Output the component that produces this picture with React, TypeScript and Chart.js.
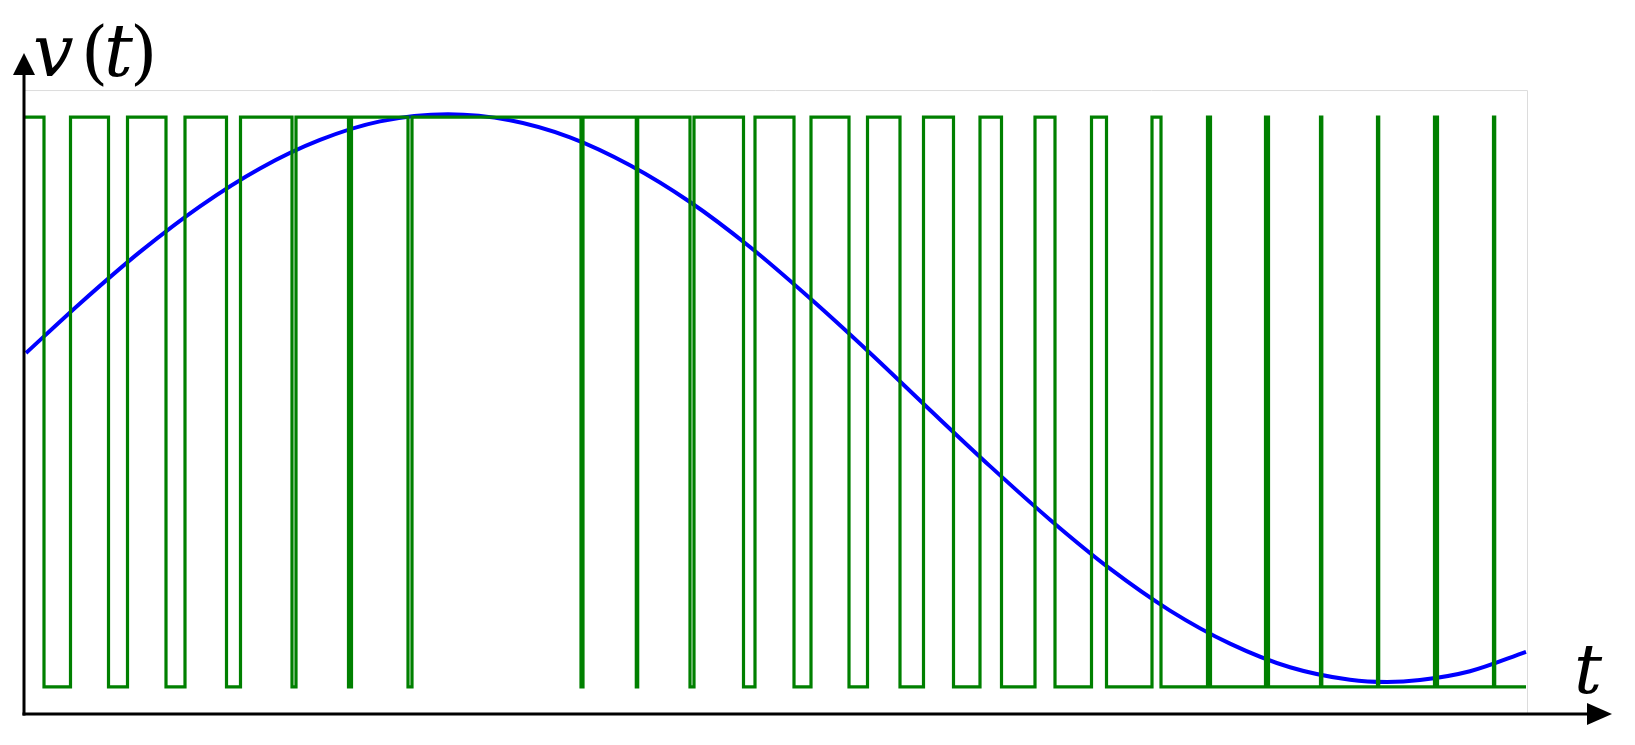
import React, { useEffect, useRef } from "react";
import { Chart, registerables } from "chart.js";

Chart.register(...registerables);

// ---- axis ranges (t in arbitrary time units, v normalised so PWM swings between -1 and 1)
const T_MIN = 0;
const T_MAX = 1588;
const V_MIN = -1.095;
const V_MAX = 1.225;

// ---- PWM (green) signal: starts high, toggles at every edge listed
const PWM_HIGH = 1;
const PWM_LOW = -1;
const PWM_START = 1;
const PWM_END = 1502;
const pwmEdges = [
  20, 46.5, 84.5, 103.5, 142, 161, 202.5, 216.5, 268, 272, 324.5, 327.5, 384, 388,
  557, 559, 612.3, 613.7, 666, 670, 719.5, 731, 770, 787, 825, 843.5, 876, 899.5,
  929.5, 956, 977.5, 1011, 1031, 1067.5, 1082.5, 1128, 1137, 1183.5, 1186.5, 1241.5,
  1244.5, 1296.5, 1297.8, 1353.5, 1354.7, 1410.5, 1413.5, 1469.5, 1470.7,
];

// ---- reference (blue) waveform
const sineT = [
  2, 56, 116, 176, 236, 296, 356, 424, 486, 546, 606, 666, 726, 786, 846, 906, 966,
  1026, 1086, 1146, 1206, 1266, 1326, 1363, 1396, 1446, 1502,
];
const sineV = [
  0.172, 0.346, 0.527, 0.687, 0.82, 0.92, 0.985, 1.01, 0.989, 0.929, 0.831, 0.702,
  0.544, 0.364, 0.172, -0.028, -0.225, -0.413, -0.585, -0.732, -0.848, -0.931,
  -0.975, -0.983, -0.976, -0.945, -0.877,
];

// ---- light frame of the original plot image
const FRAME_T = 1503;
const FRAME_V = 1.095;

const Y_LABEL_PARTS = ["v", "(", "t", ")"];
const X_LABEL = "t";

const GREEN = "#008000";
const BLUE = "#0000ff";

export default function App() {
  const canvasRef = useRef<HTMLCanvasElement | null>(null);

  useEffect(() => {
    const canvas = canvasRef.current;
    if (!canvas) return;

    const pwmData: { x: number; y: number }[] = [{ x: PWM_START, y: PWM_HIGH }];
    let level = PWM_HIGH;
    for (const e of pwmEdges) {
      level = level === PWM_HIGH ? PWM_LOW : PWM_HIGH;
      pwmData.push({ x: e, y: level });
    }
    pwmData.push({ x: PWM_END, y: level });

    const sineData = sineT.map((t, i) => ({ x: t, y: sineV[i] }));

    const axesPlugin = {
      id: "axesArrows",
      beforeDatasetsDraw(chart: any) {
        const { ctx, scales } = chart;
        const xs = scales.x;
        const ys = scales.y;
        const x0 = xs.getPixelForValue(T_MIN);
        const y0 = ys.getPixelForValue(V_MIN);
        const fx = xs.getPixelForValue(FRAME_T);
        const fy = ys.getPixelForValue(FRAME_V);
        ctx.save();
        ctx.strokeStyle = "#dcdcdc";
        ctx.lineWidth = 1;
        ctx.beginPath();
        ctx.moveTo(x0, fy + 0.5);
        ctx.lineTo(fx + 0.5, fy + 0.5);
        ctx.lineTo(fx + 0.5, y0);
        ctx.stroke();
        ctx.restore();
      },
      afterDraw(chart: any) {
        const { ctx, scales } = chart;
        const xs = scales.x;
        const ys = scales.y;
        const x0 = xs.getPixelForValue(T_MIN);
        const y0 = ys.getPixelForValue(V_MIN);
        const xEnd = xs.getPixelForValue(T_MAX);
        const yEnd = ys.getPixelForValue(V_MAX);
        ctx.save();
        ctx.strokeStyle = "#000";
        ctx.fillStyle = "#000";
        ctx.lineWidth = 3;
        // y axis
        ctx.beginPath();
        ctx.moveTo(x0, y0 + 1.5);
        ctx.lineTo(x0, yEnd + 18);
        ctx.stroke();
        ctx.beginPath();
        ctx.moveTo(x0, yEnd);
        ctx.lineTo(x0 - 11, yEnd + 22);
        ctx.lineTo(x0 + 11, yEnd + 22);
        ctx.closePath();
        ctx.fill();
        // x axis
        ctx.beginPath();
        ctx.moveTo(x0 - 1.5, y0);
        ctx.lineTo(xEnd - 20, y0);
        ctx.stroke();
        ctx.beginPath();
        ctx.moveTo(xEnd, y0);
        ctx.lineTo(xEnd - 25, y0 - 11);
        ctx.lineTo(xEnd - 25, y0 + 11);
        ctx.closePath();
        ctx.fill();

        // labels
        ctx.textAlign = "left";
        ctx.textBaseline = "alphabetic";
        const italic = "italic 72px 'DejaVu Serif', serif";
        const upright = "70px 'DejaVu Serif', serif";
        const offs = [9, 57, 80, 106];
        const baseY = yEnd + 23;
        Y_LABEL_PARTS.forEach((p, i) => {
          const paren = p === "(" || p === ")";
          ctx.font = paren ? upright : italic;
          ctx.fillText(p, x0 + offs[i], baseY);
        });
        ctx.font = "italic 70px 'DejaVu Serif', serif";
        ctx.fillText(X_LABEL, xEnd - 38, y0 - 21);
        ctx.restore();
      },
    };

    const chart = new Chart(canvas, {
      type: "line",
      data: {
        datasets: [
          {
            label: "PWM",
            data: pwmData,
            borderColor: GREEN,
            borderWidth: 3.2,
            stepped: "before",
            pointRadius: 0,
            fill: false,
            borderJoinStyle: "miter",
          },
          {
            label: "v",
            data: sineData,
            borderColor: BLUE,
            borderWidth: 4,
            pointRadius: 0,
            fill: false,
            cubicInterpolationMode: "monotone",
          },
        ],
      },
      options: {
        responsive: false,
        animation: false,
        devicePixelRatio: 1,
        layout: { padding: { left: 24, right: 23, top: 53, bottom: 31 } },
        plugins: { legend: { display: false }, tooltip: { enabled: false } },
        events: [],
        scales: {
          x: { type: "linear", min: T_MIN, max: T_MAX, display: false },
          y: { type: "linear", min: V_MIN, max: V_MAX, display: false },
        },
      },
      plugins: [axesPlugin],
    });

    return () => chart.destroy();
  }, []);

  return (
    <div style={{ position: "fixed", left: 0, top: 0, width: 1635, height: 745, background: "#fff" }}>
      <canvas ref={canvasRef} width={1635} height={745} style={{ display: "block" }} />
    </div>
  );
}
